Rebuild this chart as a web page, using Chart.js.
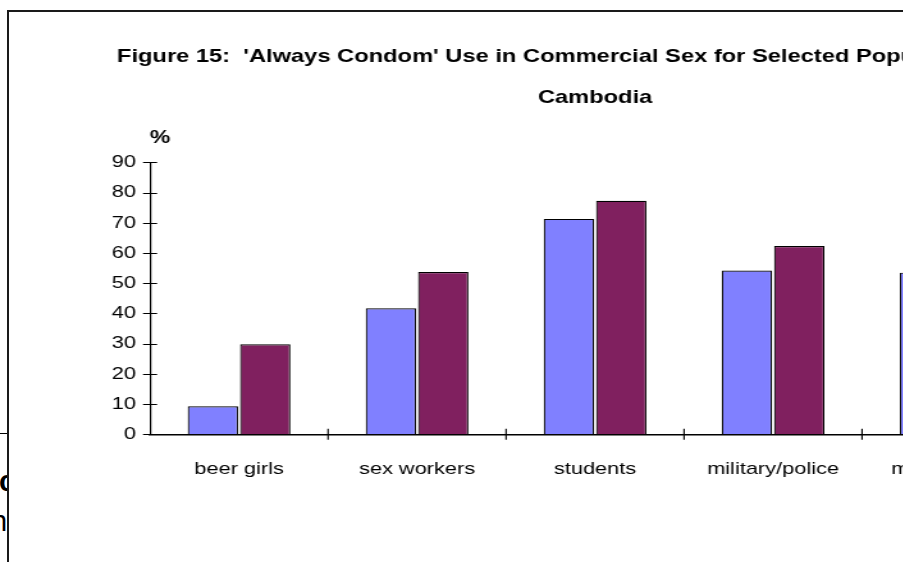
<!DOCTYPE html>
<html>
<head>
<meta charset="utf-8">
<title>Always Condom Use - Cambodia</title>
<script src="https://cdn.jsdelivr.net/npm/chart.js@4.4.1/dist/chart.umd.min.js"></script>
<style>
  html, body { margin: 0; padding: 0; background: #fff; overflow: hidden; width: 903px; height: 562px; }
  #page { position: relative; width: 903px; height: 562px; overflow: hidden; background: #fff; }
  .behind { position: absolute; font-family: 'Liberation Sans', Arial, sans-serif; color: #000; font-size: 29px; line-height: 29px; white-space: nowrap; }
  #rule { position: absolute; left: 0; top: 433px; width: 8px; height: 1px; background: #000; }
  #frame { position: absolute; left: 7px; top: 10px; width: 1200px; height: 620px; border-left: 2px solid #1a1a1a; border-top: 2px solid #1a1a1a; background: #fff; overflow: hidden; }
  #chart { position: absolute; left: 0; top: 0; width: 906px; height: 560px; transform: scaleX(1.28); transform-origin: 0 0; }
</style>
</head>
<body>
<div id="page">
  <div id="rule"></div>
  <div class="behind" style="left:-1px; top:467px; font-weight:bold;">c</div>
  <div class="behind" style="left:-9px; top:507px;">n</div>
  <div id="frame">
    <canvas id="chart" width="906" height="560"></canvas>
  </div>
</div>
<script>
// Chart data
const titleLine1 = " Figure 15:  'Always Condom' Use in Commercial Sex for Selected Populations,";
const titleLine2 = 'Cambodia';
const unitLabel = '%';
const categories = ['beer girls', 'sex workers', 'students', 'military/police', 'moto drivers'];
const seriesNames = ['1997', '1998'];
const series1 = [9.3, 41.7, 71.3, 54.2, 53.5];
const series2 = [29.8, 53.7, 77.3, 62.3, 58.0];
const yTicks = [0, 10, 20, 30, 40, 50, 60, 70, 80, 90];

const FONT = "'Liberation Sans', Arial, sans-serif";

// Tick marks that cross both axes, plus the "%" unit label above the value axis
const crossTicks = {
  id: 'crossTicks',
  afterDraw(chart) {
    const { ctx, scales: { x, y }, chartArea } = chart;
    ctx.save();
    ctx.strokeStyle = '#000';
    ctx.beginPath();
    ctx.lineWidth = 1.2;
    y.ticks.forEach(t => {
      const py = Math.round(y.getPixelForValue(t.value)) + 0.5;
      ctx.moveTo(x.left - 5.5, py);
      ctx.lineTo(x.left + 5.5, py);
    });
    ctx.stroke();
    ctx.beginPath();
    ctx.lineWidth = 1.1;
    const base = y.getPixelForValue(0);
    for (let i = 1; i <= categories.length; i++) {
      const px = x.getPixelForValue(i - 0.5);
      ctx.moveTo(px, base - 5.5);
      ctx.lineTo(px, base + 5.5);
    }
    ctx.stroke();
    ctx.fillStyle = '#000';
    ctx.font = 'bold 18px ' + FONT;
    ctx.textAlign = 'center';
    ctx.textBaseline = 'middle';
    ctx.fillText(unitLabel, chartArea.left + 7.7, chartArea.top - 24.7);
    ctx.restore();
  }
};

new Chart(document.getElementById('chart'), {
  type: 'bar',
  data: {
    labels: categories,
    datasets: [
      { label: seriesNames[0], data: series1, backgroundColor: '#8080ff', borderColor: '#000', borderWidth: 1.2 },
      { label: seriesNames[1], data: series2, backgroundColor: '#80205f', borderColor: '#000', borderWidth: 1.2 }
    ]
  },
  options: {
    responsive: false,
    devicePixelRatio: 1,
    animation: false,
    layout: { padding: { left: 79.2, right: 100.5, top: 0, bottom: 77.7 } },
    datasets: { bar: { categoryPercentage: 0.588, barPercentage: 0.962 } },
    plugins: {
      legend: { display: false },
      tooltip: { enabled: false },
      title: {
        display: true, text: titleLine1, align: 'start', fullSize: true, color: '#000',
        font: { family: FONT, size: 18.5, weight: 'bold' },
        padding: { top: 33.4, bottom: 0 }
      },
      subtitle: {
        display: true, text: titleLine2, align: 'center', fullSize: false, color: '#000',
        font: { family: FONT, size: 18.5, weight: 'bold' },
        padding: { top: 18.8, bottom: 53.8 }
      }
    },
    scales: {
      x: {
        grid: { display: false, drawTicks: false },
        border: { display: true, color: '#000', width: 1.5 },
        ticks: { color: '#000', font: { family: FONT, size: 17 }, padding: 25, maxRotation: 0, autoSkip: false },
        afterFit(s) { s.height = 60; }
      },
      y: {
        min: 0, max: 90,
        afterBuildTicks(s) { s.ticks = yTicks.map(v => ({ value: v })); },
        grid: { display: false, drawTicks: false },
        border: { display: true, color: '#000', width: 1.2 },
        ticks: { color: '#000', font: { family: FONT, size: 17 }, padding: 11 },
        afterFit(s) { s.width = 31; }
      }
    }
  },
  plugins: [crossTicks]
});
</script>
</body>
</html>
